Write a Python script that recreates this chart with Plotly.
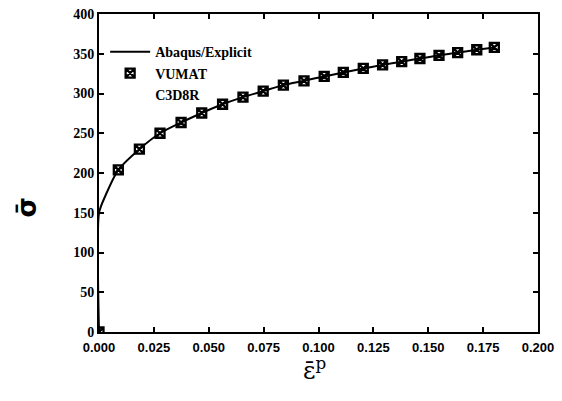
import plotly.graph_objects as go

# VUMAT C3D8R markers
vumat_x = [0.0, 0.0088, 0.0184, 0.0278, 0.0374, 0.0468, 0.0563, 0.0656, 0.0748,
           0.0840, 0.0934, 0.1026, 0.1113, 0.1204, 0.1292, 0.1379, 0.1462, 0.1549,
           0.1634, 0.1721, 0.1801]
vumat_y = [0, 204, 230, 250, 263.5, 275.5, 286.5, 295.5, 303, 310.5, 316, 321.5,
           326.5, 331.5, 336, 340, 344, 348, 351.5, 355, 358]

# Abaqus/Explicit curve
abq_x = [0.0, 0.0, 0.003, 0.0088, 0.0184, 0.0278, 0.0374, 0.0468, 0.0563, 0.0656,
         0.0748, 0.0840, 0.0934, 0.1026, 0.1113, 0.1204, 0.1292, 0.1379, 0.1462,
         0.1549, 0.1634, 0.1721, 0.1801]
abq_y = [0, 150, 172, 204, 230, 250, 263.5, 275.5, 286.5, 295.5, 303, 310.5, 316,
         321.5, 326.5, 331.5, 336, 340, 344, 348, 351.5, 355, 358]

x_ticks = [0.0, 0.025, 0.05, 0.075, 0.1, 0.125, 0.15, 0.175, 0.2]
x_labels = ["0.000", "0.025", "0.050", "0.075", "0.100", "0.125", "0.150", "0.175", "0.200"]
y_ticks = [0, 50, 100, 150, 200, 250, 300, 350, 400]
y_labels = ["<b>%d</b>" % v for v in y_ticks]
x_labels_b = ["<b>%s</b>" % s for s in x_labels]

serif = "Liberation Serif"

fig = go.Figure()
fig.add_trace(go.Scatter(x=abq_x, y=abq_y, mode="lines", name="<b>Abaqus/Explicit</b>",
                         line=dict(color="black", width=2, shape="spline", smoothing=0.6)))
fig.add_trace(go.Scatter(x=vumat_x, y=vumat_y, mode="markers", name="<b>VUMAT</b>",
                         marker=dict(symbol="square-x-open", size=9, color="black",
                                     line=dict(color="black", width=2.3))))
fig.add_trace(go.Scatter(x=[None], y=[None], mode="lines", name="<b>C3D8R</b>",
                         line=dict(color="rgba(0,0,0,0)", width=0)))

fig.update_layout(
    width=562, height=401,
    margin=dict(l=99, r=24, t=14, b=69),
    paper_bgcolor="white", plot_bgcolor="white",
    showlegend=True,
    legend=dict(x=0.014, y=0.93, xanchor="left", yanchor="top",
                bgcolor="rgba(0,0,0,0)", tracegroupgap=0,
                font=dict(family=serif, size=14, color="black"),
                itemwidth=40),
    xaxis=dict(range=[0, 0.2], tickvals=x_ticks, ticktext=x_labels_b, automargin=False,
               showgrid=False, zeroline=False, showline=True, linecolor="black",
               linewidth=2, mirror="ticks", ticks="inside", ticklen=5, tickwidth=1.5,
               tickcolor="black", ticklabelstandoff=2,
               tickfont=dict(family="Liberation Sans", size=13, color="black")),
    yaxis=dict(range=[0, 400], tickvals=y_ticks, ticktext=y_labels, automargin=False,
               showgrid=False, zeroline=False, showline=True, linecolor="black",
               linewidth=2, mirror="ticks", ticks="inside", ticklen=5, tickwidth=1.5,
               tickcolor="black",
               tickfont=dict(family=serif, size=14, color="black")),
    annotations=[
        dict(text="<b>σ̄</b>", xref="paper", yref="paper", x=-0.165, y=0.39,
             xanchor="center", yanchor="middle", textangle=-90, showarrow=False,
             font=dict(family="DejaVu Sans", size=26, color="black")),
        dict(text="ε̄<sup>p</sup>", xref="paper", yref="paper", x=0.49, y=-0.06,
             xanchor="center", yanchor="top", showarrow=False,
             font=dict(family="DejaVu Serif", size=24, color="black")),
    ],
)

fig.write_html("out.html", config={"displayModeBar": False},
               post_script="document.body.style.margin='0px';")
